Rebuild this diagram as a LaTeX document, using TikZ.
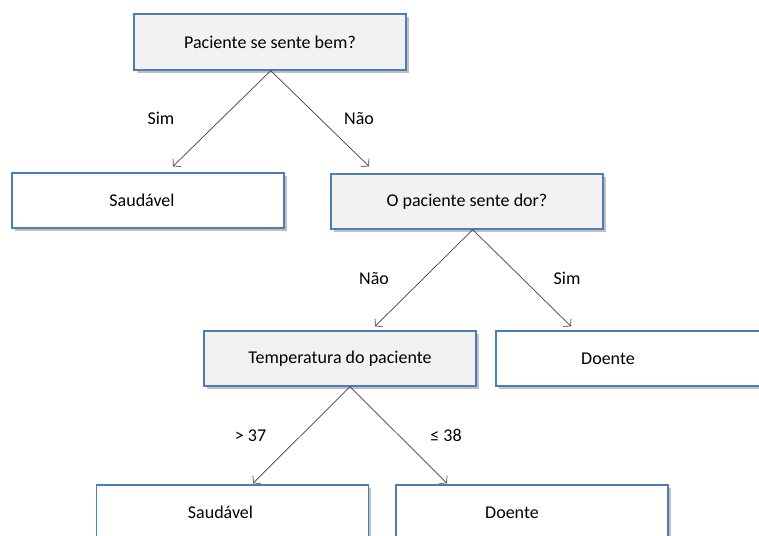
\documentclass[tikz,border=0pt]{standalone}
\usepackage{fontspec}
\setmainfont{Carlito}
\usetikzlibrary{arrows.meta,shadows}
\definecolor{boxline}{HTML}{4A7EBB}
\definecolor{qfill}{HTML}{F2F2F2}
\definecolor{edgecol}{HTML}{404040}
\tikzset{
  box/.style={draw=boxline, line width=1.3pt, minimum width=272pt, minimum height=55pt,
    inner sep=0pt, font=\fontsize{18}{21}\selectfont, text=black,
    drop shadow={shadow xshift=2.5pt, shadow yshift=-3pt, fill=black!45, opacity=0.55}},
  qbox/.style={box, fill=qfill},
  leaf/.style={box, fill=white},
  edge/.style={draw=edgecol, line width=0.7pt, -{Straight Barb[length=5pt,width=11pt,line width=0.7pt]}},
  lbl/.style={font=\fontsize{18}{21}\selectfont, anchor=base, inner sep=0pt}
}
\begin{document}
\begin{tikzpicture}[x=1pt,y=1pt]
\useasboundingbox (0,0) rectangle (759,535);
\begin{scope}
\clip (0,0) rectangle (759,535);
\node[qbox, minimum height=56pt] (q1) at (270,493) {Paciente se sente bem?};
\node[leaf] (s1) at (148,334.5) {\kern-12pt Saudável};
\node[qbox] (q2) at (467,333.5) {O paciente sente dor?};
\node[qbox] (t) at (340,176.5) {Temperatura do paciente};
\node[leaf] (d1) at (632,176.5) {\kern-48pt Doente};
\node[leaf] (s2) at (232.5,22.5) {\kern-24pt Saudável};
\node[leaf] (d2) at (532,22.5) {\kern-40pt Doente};

\draw[edge] ([xshift=0.7pt]q1.south) -- ([xshift=25pt,yshift=6pt]s1.north);
\draw[edge] ([xshift=0.7pt]q1.south) -- ([xshift=-98pt,yshift=7pt]q2.north);
\draw[edge] ([xshift=5.7pt]q2.south) -- ([xshift=35pt,yshift=4pt]t.north);
\draw[edge] ([xshift=5.7pt]q2.south) -- ([xshift=-61pt,yshift=4pt]d1.north);
\draw[edge] ([xshift=10pt]t.south) -- ([xshift=20.5pt,yshift=1pt]s2.north);
\draw[edge] ([xshift=10pt]t.south) -- ([xshift=-85pt,yshift=1pt]d2.north);

\node[lbl] (l1) at (161,410) {Sim};
\node[lbl] (l2) at (359,410) {Não};
\node[lbl] (l3) at (374,250) {Não};
\node[lbl] (l4) at (567,250) {Sim};
\node[lbl] (l5) at (250.5,93) {> 37};
\node[lbl] (l6) at (446,93) {≤ 38};
\end{scope}
\end{tikzpicture}
\end{document}
